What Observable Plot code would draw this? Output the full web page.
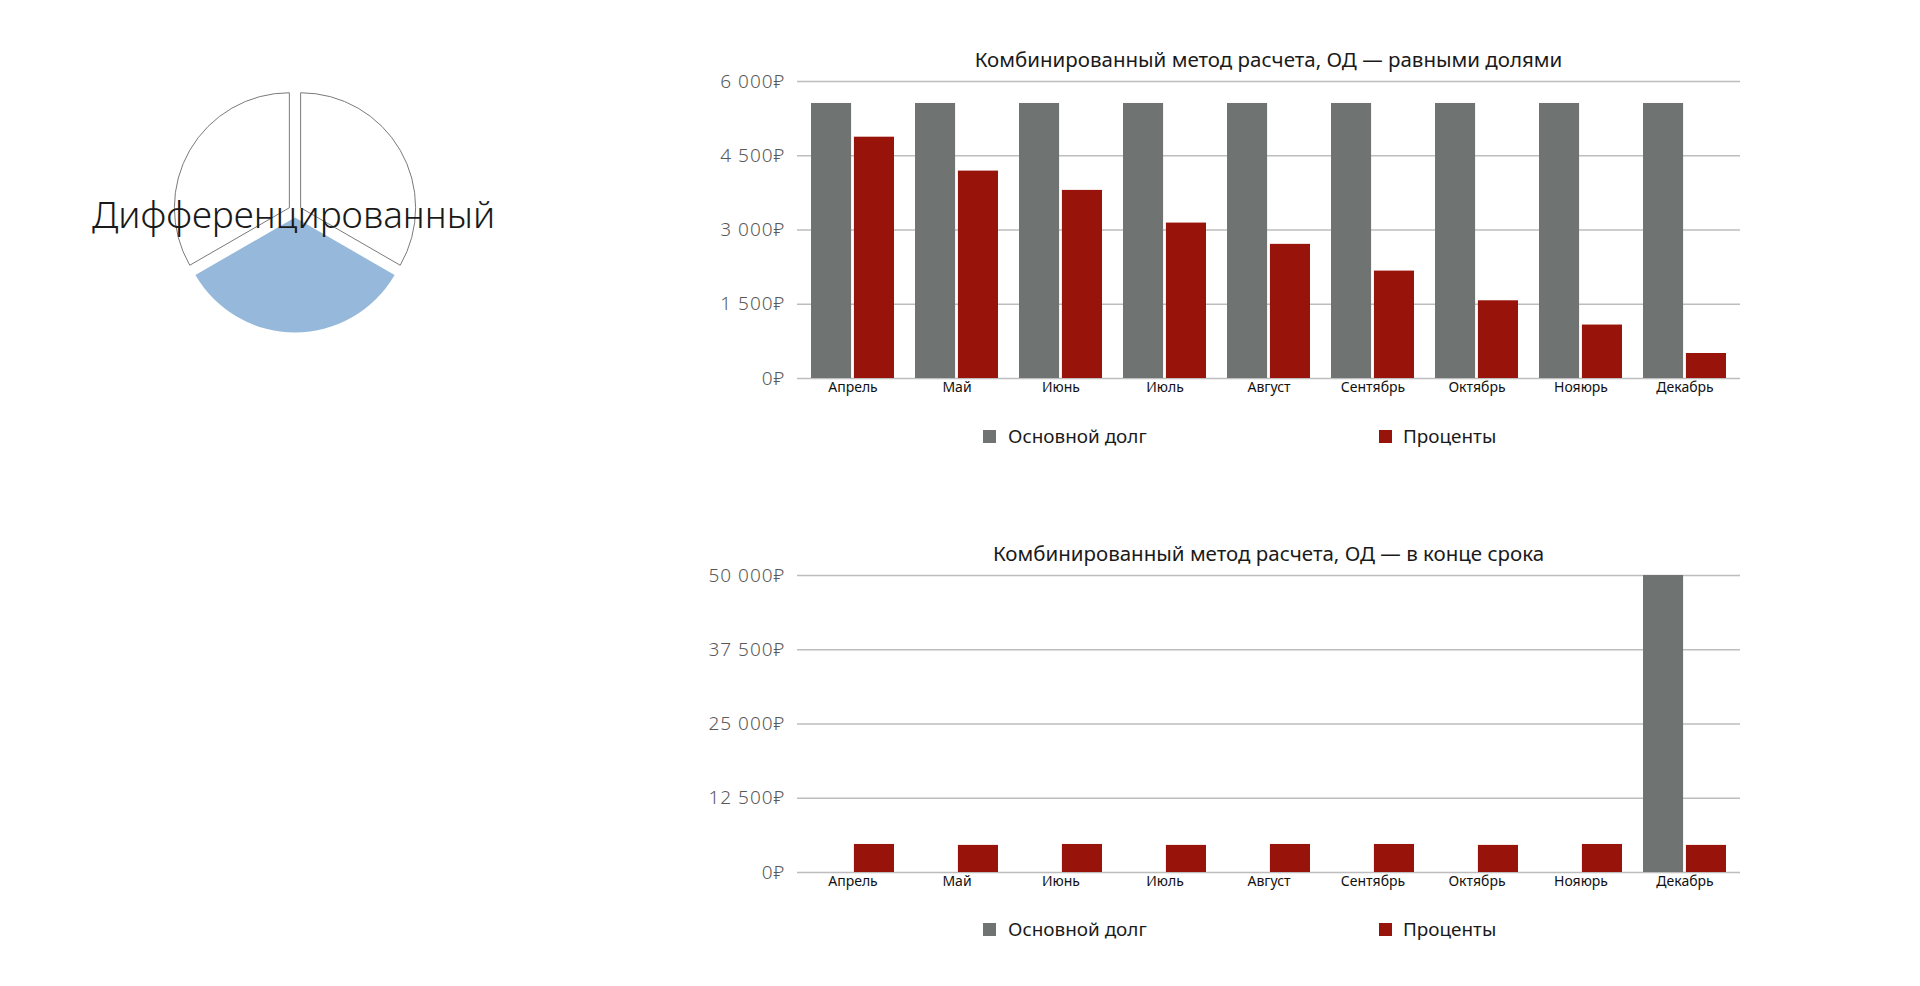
<!DOCTYPE html>
<html>
<head>
<meta charset="utf-8">
<script src="https://cdn.jsdelivr.net/npm/d3@7"></script>
<script src="https://cdn.jsdelivr.net/npm/@observablehq/plot@0.6"></script>
<style>
  html, body { margin: 0; padding: 0; background: #fff; }
  #page { position: relative; width: 1920px; height: 986px; overflow: hidden; font-family: "Noto Sans", sans-serif; }
  .title { position: absolute; text-align: center; font-size: 20.5px; line-height: 26px; color: #1a1a1a; white-space: nowrap; }
  .lg-sw { position: absolute; width: 13px; height: 13px; }
  .lg-tx { position: absolute; font-size: 18.9px; line-height: 24px; color: #1a1a1a; white-space: nowrap; }
  .yax text { letter-spacing: 1px; }
</style>
</head>
<body>
<div id="page"></div>
<script>
// ---------- data ----------
const months = ["Апрель", "Май", "Июнь", "Июль", "Август", "Сентябрь", "Октябрь", "Нояюрь", "Декабрь"];
const seriesNames = ["Основной долг", "Проценты"];
const seriesColors = ["#6F7472", "#98140A"];

// Chart 1: ОД — равными долями
const title1 = "Комбинированный метод расчета, ОД — равными долями";
const principal1 = [5556, 5556, 5556, 5556, 5556, 5556, 5556, 5556, 5556];
const interest1 = [4875, 4190, 3800, 3140, 2710, 2170, 1570, 1080, 505];
const yTicks1 = [0, 1500, 3000, 4500, 6000];

// Chart 2: ОД — в конце срока
const title2 = "Комбинированный метод расчета, ОД — в конце срока";
const principal2 = [0, 0, 0, 0, 0, 0, 0, 0, 50000];
const interest2 = [4720, 4560, 4720, 4560, 4720, 4720, 4560, 4720, 4560];
const yTicks2 = [0, 12500, 25000, 37500, 50000];

// Pie
const pieLabel = "Дифференцированный";
const pieValues = [1, 1, 1];
const pieHighlight = [false, true, false];

// ---------- helpers ----------
const page = document.getElementById("page");
const rub = d => (d === 0 ? "0" : d3.format(",")(d).replace(/,/g, " ")) + "₽";

function place(node, left, top) {
  node.style.position = "absolute";
  node.style.left = left + "px";
  node.style.top = top + "px";
  page.appendChild(node);
}

function barChart(principal, interest, yTicks, top) {
  const rows = months.flatMap((m, i) => [
    {month: m, series: seriesNames[0], value: principal[i]},
    {month: m, series: seriesNames[1], value: interest[i]}
  ]);
  const width = 1060, height = 340, mL = 97, mR = 20, mT = 10, mB = 33;
  const pIn = 0.2, pOut = 0.1, gap = 2;
  const step = (width - mL - mR) / (months.length - pIn + 2 * pOut);
  const bw = step * (1 - pIn);
  const inset = (bw + gap) / 2;
  const svg = Plot.plot({
    width, height, marginLeft: mL, marginRight: mR, marginTop: mT, marginBottom: mB,
    style: {fontFamily: "Noto Sans, sans-serif", background: "transparent", overflow: "visible"},
    x: {domain: months, paddingInner: pIn, paddingOuter: pOut, label: null},
    y: {domain: [0, yTicks[yTicks.length - 1]], label: null},
    color: {domain: seriesNames, range: seriesColors},
    marks: [
      Plot.ruleY(yTicks, {stroke: "#BDBDBD", strokeWidth: 1.5}),
      Plot.barY(rows.filter(d => d.series === seriesNames[0]), {x: "month", y: "value", fill: "series", insetRight: inset}),
      Plot.barY(rows.filter(d => d.series === seriesNames[1]), {x: "month", y: "value", fill: "series", insetLeft: inset}),
      Plot.axisY({ticks: yTicks, tickFormat: rub, tickSize: 0, tickPadding: 12, fontSize: 19, fill: "#595959", fontWeight: 300, label: null, className: "yax"}),
      Plot.axisX({tickSize: 0, tickPadding: 4, fontSize: 14, fill: "#111", label: null})
    ]
  });
  place(svg, 700, top);
}

function title(text, top) {
  const d = document.createElement("div");
  d.className = "title";
  d.textContent = text;
  d.style.left = "797px"; d.style.width = "943px"; d.style.top = top + "px";
  page.appendChild(d);
}

function legend(centerY) {
  const swX = [983, 1379], txX = [1008, 1403];
  seriesNames.forEach((name, i) => {
    const sw = document.createElement("div");
    sw.className = "lg-sw";
    sw.style.background = seriesColors[i];
    sw.style.left = swX[i] + "px"; sw.style.top = (centerY - 6.5) + "px";
    page.appendChild(sw);
    const tx = document.createElement("div");
    tx.className = "lg-tx";
    tx.textContent = name;
    tx.style.left = txX[i] + "px"; tx.style.top = (centerY - 12) + "px";
    page.appendChild(tx);
  });
}

// ---------- pie ----------
function pieChart() {
  const width = 590, height = 422, r = 115, off = 6.5;
  const arcs = d3.pie().sort(null)(pieValues);
  const arc = d3.arc().innerRadius(0).outerRadius(r);
  const pieMark = (index, scales, values, dims) => {
    const g = d3.create("svg:g")
      .attr("transform", `translate(${dims.width / 2},${dims.height / 2})`);
    arcs.forEach((a, i) => {
      const mid = (a.startAngle + a.endAngle) / 2;
      g.append("path")
        .attr("d", arc(a))
        .attr("transform", `translate(${off * Math.sin(mid)},${-off * Math.cos(mid)})`)
        .attr("fill", pieHighlight[i] ? "#95B8DB" : "#fff")
        .attr("stroke", pieHighlight[i] ? "none" : "#7a7a7a")
        .attr("stroke-width", 1)
        .attr("stroke-linejoin", "miter");
    });
    return g.node();
  };
  const svg = Plot.plot({
    width, height, margin: 0,
    style: {background: "transparent", overflow: "visible"},
    x: {axis: null}, y: {axis: null},
    marks: [
      pieMark,
      Plot.text([pieLabel], {text: d => d, frameAnchor: "middle", dx: -2, dy: 5, fontSize: 37, fontWeight: 300,
        fill: "#1a1a1a", fontFamily: "Noto Sans, sans-serif", style: "letter-spacing:4.5px"})
    ]
  });
  place(svg, 0, 0);
}

pieChart();
title(title1, 46);
barChart(principal1, interest1, yTicks1, 71);
legend(436);
title(title2, 540);
barChart(principal2, interest2, yTicks2, 565);
legend(929);
</script>
</body>
</html>
